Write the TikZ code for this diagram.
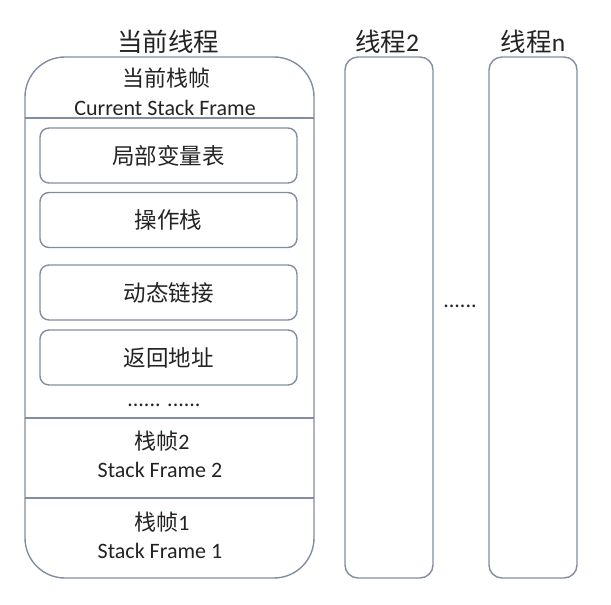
\documentclass[tikz,border=0pt]{standalone}
\usepackage{fontspec}
\setmainfont{Carlito}
\newfontfamily\cjk{Noto Sans CJK SC}
\definecolor{edge}{RGB}{130,142,160}
\definecolor{txt}{RGB}{35,35,35}
\begin{document}
\begin{tikzpicture}[x=1pt,y=-1pt,
  outline/.style={draw=edge,line width=1.4pt},
  inbox/.style={outline,rounded corners=9pt,minimum width=257pt,minimum height=55pt,inner sep=0pt,font=\cjk\fontsize{22.5}{26}\selectfont,text=txt},
  lbl/.style={inner sep=0pt,text=txt},
  title/.style={lbl,font=\cjk\fontsize{25.5}{28}\selectfont},
  cn/.style={lbl,font=\cjk\fontsize{22}{25}\selectfont},
  en/.style={lbl,font=\fontsize{22}{25}\selectfont}]
\useasboundingbox (0,0) rectangle (611,605);
% threads
\node[outline,rounded corners=40pt,minimum width=289pt,minimum height=521pt,inner sep=0pt] (main) at (169.5,317.5) {};
\node[outline,rounded corners=13pt,minimum width=88pt,minimum height=521pt,inner sep=0pt] (t2) at (389,317.5) {};
\node[outline,rounded corners=13pt,minimum width=88pt,minimum height=521pt,inner sep=0pt] (tn) at (533,317.5) {};
\node[title] (ttl1) at (168,42) {当前线程};
\node[title] (ttl2) at (387,42) {\cjk 线程\fontspec{Carlito}2};
\node[title] (ttln) at (533,42) {\cjk 线程\fontspec{Carlito}n};
% dividers
\coordinate (d1l) at (25,118); \coordinate (d1r) at (314,118);
\coordinate (d2l) at (25,418); \coordinate (d2r) at (314,418);
\coordinate (d3l) at (25,498); \coordinate (d3r) at (314,498);
\draw[outline] (d1l) -- (d1r);
\draw[outline] (d2l) -- (d2r);
\draw[outline] (d3l) -- (d3r);
% current frame
\node[cn] (cf) at (166,78) {当前栈帧};
\node[en] (cfe) at (165,108) {Current Stack Frame};
\node[inbox] (b1) at (168.5,155.5) {局部变量表};
\node[inbox] (b2) at (168.5,220) {操作栈};
\node[inbox] (b3) at (168.5,292.5) {动态链接};
\node[inbox] (b4) at (168.5,357.5) {返回地址};
\node[lbl,font=\fontsize{22}{24}\selectfont] (dots) at (164,405) {...... ......};
\node[cn] (f2) at (162,441) {栈帧\fontspec{Carlito}2};
\node[en] (f2e) at (160,470) {Stack Frame 2};
\node[cn] (f1) at (162,522) {栈帧\fontspec{Carlito}1};
\node[en] (f1e) at (160,551) {Stack Frame 1};
\node[lbl,font=\fontsize{22}{24}\selectfont] (mid) at (460,306) {......};
\end{tikzpicture}
\end{document}
